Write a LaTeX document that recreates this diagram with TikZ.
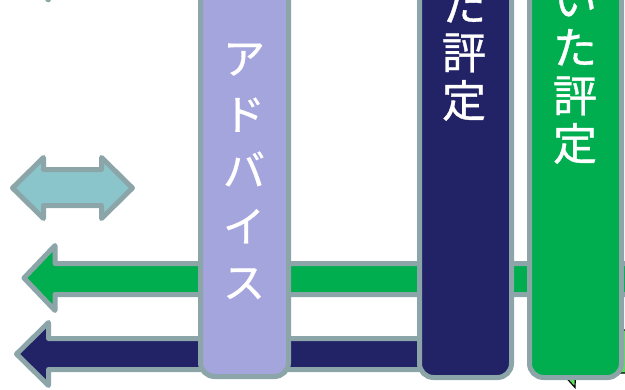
\documentclass[tikz,border=0pt]{standalone}
\usepackage{fontspec}
\newfontfamily\jpfont[FakeBold=0.8]{Noto Sans CJK JP}
\definecolor{bordergray}{HTML}{8CA5A8}
\definecolor{lavfill}{HTML}{A5A5DD}
\definecolor{navyfill}{HTML}{222266}
\definecolor{greenfill}{HTML}{00AE4F}
\definecolor{tealfill}{HTML}{8AC5CB}
\definecolor{calloutfill}{HTML}{5FE05F}
\tikzset{
  shapeline/.style={draw=bordergray, line width=5pt, line join=round},
  colbox/.style={shapeline, rounded corners=14pt},
  coltext/.style={text=white, font=\jpfont\fontsize{44}{48}\selectfont, anchor=base, inner sep=0pt},
  lavtext/.style={coltext, font=\jpfont\fontsize{42}{48}\selectfont}
}
\begin{document}
\begin{tikzpicture}[x=1pt,y=-1pt]
\useasboundingbox (0,0) rectangle (625,389);
% fragment of a shape above the picture
\draw[shapeline, fill=tealfill] (16,-34) -- (48.5,-66) -- (48.5,-50) -- (110,-50) -- (110,-14) -- (48.5,-14) -- (48.5,0) -- cycle;
% double arrow
\draw[shapeline, fill=tealfill] (12.5,188) -- (43.5,157.5) -- (43.5,169.5) -- (101.5,169.5) -- (101.5,157.5) -- (132.5,188) -- (101.5,218.5) -- (101.5,205.5) -- (43.5,205.5) -- (43.5,218.5) -- cycle;
% green arrow
\draw[shapeline, fill=greenfill] (24,278) -- (55,245.5) -- (55,263.5) -- (660,263.5) -- (660,294.5) -- (55,294.5) -- (55,310.5) -- cycle;
% navy arrow
\draw[shapeline, fill=navyfill] (16.5,354) -- (48.5,322.5) -- (48.5,338.5) -- (470,338.5) -- (470,369.5) -- (48.5,369.5) -- (48.5,385.5) -- cycle;
% callout behind the green column
\draw[black, line width=1.2pt, fill=calloutfill] (545,330) -- (660,330) -- (660,373) -- (575.5,373) -- (575,387.5) -- (562,373) -- (545,373) -- cycle;
% columns
\draw[colbox, fill=lavfill] (200.5,-60) rectangle (288.5,376.5);
\draw[colbox, fill=navyfill] (419.5,-60) rectangle (511.5,377.5);
\draw[colbox, fill=greenfill] (529.5,-60) rectangle (621.5,377.5);
% lavender column text
\node[lavtext] (l1) at (244,74) {ア};
\node[lavtext] (l2) at (244,130) {ド};
\node[lavtext] (l3) at (244,186) {バ};
\node[lavtext] (l4) at (244,242) {イ};
\node[lavtext] (l5) at (244,298) {ス};
% navy column text
\node[coltext] (n1) at (464,21) {た};
\node[coltext] (n2) at (464,69) {評};
\node[coltext] (n3) at (464,117) {定};
% green column text
\node[coltext] (g0) at (575,16) {い};
\node[coltext] (g1) at (575,64) {た};
\node[coltext] (g2) at (575,112) {評};
\node[coltext] (g3) at (575,160) {定};
\end{tikzpicture}
\end{document}
